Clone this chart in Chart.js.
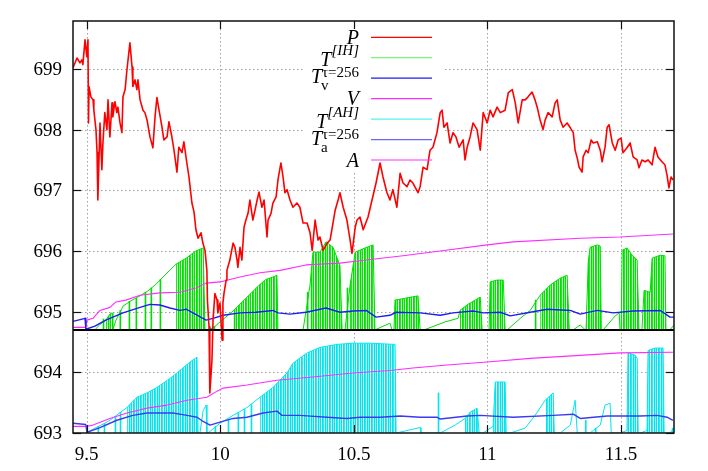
<!DOCTYPE html>
<html>
<head>
<meta charset="utf-8">
<script src="https://cdn.jsdelivr.net/npm/chart.js@4.4.1/dist/chart.umd.min.js"></script>
<style>
  html, body { margin: 0; padding: 0; background: #fff; }
  #wrap { width: 708px; height: 471px; }
</style>
</head>
<body>
<div id="wrap"><canvas id="prices" width="708" height="471"></canvas></div>
<script>
// axis ticks and ranges
const xTicks = [9.5, 10, 10.5, 11, 11.5];
const yTicks = [693, 694, 695, 696, 697, 698, 699];
const xMin = 9.449, xMax = 11.698;
const yMin = 693, yMax = 699.79;
// zero line of the upper indicator panel
const upperBase = 694.7;

// P : price
const price = [
  [9.449, 699.02], [9.464, 699.18], [9.475, 699.10], [9.482, 699.15], [9.486, 699.07], [9.494, 699.48],
  [9.501, 699.20], [9.505, 699.48], [9.507, 698.11], [9.509, 698.71], [9.516, 698.54], [9.524, 698.49],
  [9.527, 698.32], [9.535, 698.00], [9.539, 697.62], [9.542, 696.84], [9.550, 698.11], [9.557, 697.34],
  [9.561, 697.78], [9.568, 698.28], [9.576, 698.00], [9.580, 698.49], [9.587, 697.88], [9.595, 698.44],
  [9.598, 698.21], [9.606, 698.46], [9.613, 698.28], [9.617, 698.37], [9.625, 698.11], [9.632, 697.95],
  [9.636, 698.54], [9.644, 698.66], [9.651, 698.99], [9.662, 699.43], [9.670, 699.03], [9.673, 698.71],
  [9.681, 698.82], [9.688, 698.66], [9.692, 698.82], [9.700, 698.49], [9.711, 698.32], [9.718, 698.28],
  [9.726, 698.16], [9.737, 697.88], [9.748, 697.70], [9.756, 698.21], [9.763, 698.53], [9.771, 698.32],
  [9.782, 698.04], [9.789, 697.83], [9.801, 697.88], [9.808, 698.13], [9.819, 697.88], [9.827, 697.66],
  [9.838, 697.30], [9.845, 697.71], [9.857, 697.62], [9.864, 697.80], [9.875, 697.45], [9.883, 697.22],
  [9.894, 696.79], [9.902, 696.64], [9.909, 696.35], [9.917, 696.21], [9.928, 696.30], [9.935, 696.13],
  [9.943, 696.01], [9.950, 695.68], [9.952, 695.19], [9.958, 694.75], [9.961, 693.66], [9.969, 694.20],
  [9.973, 694.86], [9.980, 695.30], [9.988, 695.19], [9.991, 694.98], [9.999, 695.14], [10.007, 694.53],
  [10.010, 695.14], [10.014, 695.30], [10.022, 695.52], [10.025, 695.68], [10.036, 695.85], [10.048, 696.13],
  [10.055, 696.06], [10.063, 695.85], [10.066, 695.73], [10.074, 696.06], [10.081, 695.85], [10.089, 696.39],
  [10.096, 696.51], [10.104, 696.62], [10.111, 696.84], [10.122, 696.51], [10.130, 696.67], [10.138, 696.84],
  [10.145, 696.97], [10.156, 696.72], [10.164, 696.84], [10.175, 696.23], [10.179, 696.51], [10.190, 696.62],
  [10.197, 696.79], [10.209, 696.89], [10.216, 697.17], [10.227, 697.45], [10.235, 697.22], [10.242, 696.96],
  [10.250, 697.01], [10.261, 696.84], [10.272, 696.72], [10.287, 696.79], [10.298, 696.72], [10.310, 696.46],
  [10.325, 696.46], [10.336, 696.30], [10.344, 696.01], [10.355, 696.51], [10.366, 696.18], [10.373, 696.23],
  [10.385, 696.01], [10.400, 696.13], [10.411, 696.18], [10.430, 696.67], [10.441, 696.84], [10.448, 696.96],
  [10.460, 696.72], [10.474, 696.51], [10.486, 696.18], [10.493, 695.96], [10.505, 696.39], [10.512, 696.51],
  [10.523, 696.56], [10.535, 696.35], [10.553, 696.56], [10.568, 696.84], [10.583, 697.12], [10.598, 697.45],
  [10.609, 697.22], [10.624, 696.96], [10.635, 696.84], [10.646, 697.01], [10.661, 696.72], [10.673, 697.28],
  [10.684, 697.12], [10.699, 697.06], [10.710, 697.17], [10.721, 697.12], [10.740, 696.96], [10.748, 697.06],
  [10.759, 697.38], [10.774, 697.34], [10.785, 697.66], [10.796, 697.71], [10.811, 697.95], [10.823, 698.28],
  [10.830, 698.32], [10.837, 698.04], [10.849, 698.11], [10.860, 697.78], [10.871, 697.95], [10.882, 697.88],
  [10.894, 697.71], [10.909, 697.83], [10.916, 697.50], [10.924, 697.71], [10.935, 697.88], [10.946, 698.11],
  [10.961, 698.00], [10.973, 697.66], [10.984, 698.28], [10.999, 698.11], [11.010, 698.32], [11.021, 698.21],
  [11.036, 698.37], [11.048, 698.28], [11.066, 698.32], [11.078, 698.61], [11.093, 698.66], [11.104, 698.44],
  [11.115, 698.11], [11.130, 698.49], [11.141, 698.49], [11.152, 698.54], [11.167, 698.62], [11.178, 698.49],
  [11.186, 698.37], [11.197, 698.16], [11.208, 698.00], [11.216, 698.16], [11.227, 698.28], [11.242, 698.21],
  [11.253, 698.44], [11.261, 698.49], [11.272, 698.16], [11.283, 698.04], [11.298, 698.11], [11.310, 698.03],
  [11.321, 697.95], [11.328, 697.66], [11.336, 697.53], [11.343, 697.38], [11.354, 697.30], [11.358, 697.55],
  [11.369, 697.66], [11.377, 697.62], [11.388, 697.83], [11.396, 697.78], [11.411, 697.80], [11.422, 697.66],
  [11.429, 697.47], [11.440, 697.71], [11.448, 698.04], [11.455, 698.08], [11.467, 697.78], [11.478, 697.66],
  [11.489, 697.83], [11.500, 697.86], [11.507, 697.62], [11.522, 697.70], [11.534, 697.78], [11.545, 697.55],
  [11.560, 697.50], [11.567, 697.37], [11.578, 697.50], [11.590, 697.47], [11.601, 697.50], [11.616, 697.42],
  [11.627, 697.71], [11.638, 697.55], [11.653, 697.47], [11.664, 697.42], [11.672, 697.25], [11.679, 697.04],
  [11.687, 697.22], [11.694, 697.17]
];

// T^[IH] : sawtooth envelope (upper panel)
const tIH = [
  [9.531, 694.7], [9.550, 694.79], [9.572, 694.86], [9.587, 694.96], [9.595, 694.98], [9.598, 694.7],
  [9.610, 694.86], [9.636, 695.09], [9.662, 695.17], [9.700, 695.26], [9.729, 695.34], [9.759, 695.45],
  [9.797, 695.62], [9.834, 695.78], [9.872, 695.88], [9.909, 696.00], [9.936, 696.05], [9.943, 694.7],
  [9.950, 694.7], [9.973, 694.73], [9.999, 694.83], [10.048, 695.01], [10.096, 695.22], [10.149, 695.45],
  [10.171, 695.53], [10.197, 695.57], [10.212, 695.60], [10.216, 694.7], [10.310, 694.7], [10.336, 695.44],
  [10.347, 695.98], [10.373, 695.98], [10.396, 696.15], [10.422, 696.06], [10.448, 695.76], [10.456, 694.7],
  [10.467, 694.7], [10.486, 695.44], [10.505, 695.98], [10.542, 696.05], [10.572, 696.10], [10.579, 694.7],
  [10.635, 694.81], [10.643, 694.7], [10.650, 694.7], [10.654, 695.19], [10.691, 695.22], [10.740, 695.26],
  [10.748, 694.7], [10.763, 694.7], [10.841, 694.83], [10.890, 694.89], [10.897, 695.02], [10.927, 695.12],
  [10.954, 695.19], [10.973, 695.24], [10.980, 694.7], [11.006, 694.7], [11.010, 695.49], [11.036, 695.52],
  [11.059, 695.52], [11.066, 694.7], [11.074, 694.7], [11.123, 694.89], [11.160, 695.02], [11.197, 695.27],
  [11.235, 695.44], [11.272, 695.55], [11.298, 695.60], [11.306, 694.7], [11.321, 694.7], [11.347, 694.78],
  [11.366, 694.7], [11.369, 694.7], [11.377, 695.82], [11.384, 696.06], [11.411, 696.10], [11.422, 696.08],
  [11.426, 694.7], [11.433, 694.7], [11.478, 694.93], [11.493, 694.98], [11.496, 694.7], [11.500, 694.7],
  [11.504, 696.01], [11.522, 696.05], [11.541, 695.93], [11.560, 695.85], [11.567, 694.7], [11.578, 694.7],
  [11.586, 695.35], [11.609, 695.32], [11.616, 695.88], [11.646, 695.93], [11.664, 695.92], [11.668, 694.7],
  [11.683, 694.7], [11.698, 694.78]
];
// stretches where the T^[IH] drops are dense enough to look filled
const tIHDense = [
  [9.570, 9.598], [9.804, 9.943], [10.021, 10.216], [10.317, 10.456], [10.471, 10.579], [10.650, 10.748],
  [10.897, 10.980], [11.006, 11.066], [11.178, 11.306], [11.369, 11.426], [11.500, 11.567], [11.582, 11.668]
];
// single T^[IH] drops in the sparse stretches: [x, top]
const tIHDrops = [
  [9.565, 694.88], [9.628, 695.02], [9.662, 695.17], [9.688, 695.22], [9.722, 695.32], [9.744, 695.39],
  [9.778, 695.53], [9.980, 694.76], [10.329, 695.32], [10.478, 695.39], [11.182, 695.19]
];

// T_v (tau = 256)
const tV = [
  [9.449, 694.84], [9.494, 694.89], [9.497, 694.71], [9.531, 694.76], [9.572, 694.86], [9.636, 694.98],
  [9.700, 695.07], [9.737, 695.12], [9.774, 695.11], [9.812, 695.06], [9.849, 695.02], [9.872, 695.04],
  [9.898, 694.98], [9.947, 694.86], [9.973, 694.89], [10.011, 694.94], [10.074, 694.98], [10.134, 694.99],
  [10.197, 695.02], [10.216, 694.98], [10.261, 694.96], [10.321, 694.99], [10.396, 695.06], [10.448, 694.99],
  [10.497, 695.01], [10.546, 695.02], [10.583, 694.91], [10.635, 694.94], [10.658, 694.99], [10.748, 694.98],
  [10.823, 694.94], [10.871, 694.98], [10.946, 695.01], [10.984, 694.98], [11.048, 694.99], [11.085, 694.93],
  [11.160, 694.99], [11.224, 695.04], [11.310, 695.02], [11.347, 694.96], [11.411, 695.02], [11.470, 694.98],
  [11.545, 695.01], [11.646, 695.02], [11.683, 694.91], [11.698, 694.91]
];

// V
const vol = [
  [9.449, 694.74], [9.497, 694.74], [9.501, 694.86], [9.524, 694.89], [9.550, 695.02], [9.587, 695.07],
  [9.610, 695.16], [9.647, 695.19], [9.700, 695.27], [9.774, 695.31], [9.849, 695.32], [9.909, 695.39],
  [9.947, 695.47], [9.999, 695.49], [10.074, 695.57], [10.149, 695.64], [10.224, 695.68], [10.321, 695.77],
  [10.448, 695.80], [10.546, 695.85], [10.684, 695.92], [10.823, 696.00], [10.999, 696.10], [11.096, 696.15],
  [11.347, 696.21], [11.496, 696.23], [11.694, 696.28]
];

// T^[AH] : sawtooth envelope (lower panel)
const tAH = [
  [9.497, 693.0], [9.531, 693.08], [9.568, 693.16], [9.587, 693.21], [9.651, 693.42], [9.688, 693.59],
  [9.726, 693.66], [9.763, 693.75], [9.812, 693.90], [9.849, 694.03], [9.887, 694.17], [9.913, 694.25],
  [9.917, 693.0], [9.924, 693.0], [9.936, 693.37], [9.947, 693.46], [9.950, 693.0], [9.954, 693.0],
  [9.999, 693.16], [10.048, 693.29], [10.100, 693.42], [10.149, 693.59], [10.197, 693.75], [10.250, 693.99],
  [10.272, 694.15], [10.325, 694.32], [10.373, 694.41], [10.437, 694.46], [10.497, 694.48], [10.560, 694.48],
  [10.654, 694.46], [10.658, 693.0], [10.748, 693.09], [10.751, 693.0], [10.823, 693.0], [10.879, 693.13],
  [10.916, 693.24], [10.935, 693.34], [10.961, 693.41], [10.969, 693.0], [10.984, 693.0], [11.021, 693.11],
  [11.029, 693.84], [11.066, 693.84], [11.070, 693.0], [11.085, 693.0], [11.141, 693.08], [11.178, 693.29],
  [11.216, 693.54], [11.246, 693.66], [11.250, 693.0], [11.272, 693.0], [11.310, 693.13], [11.328, 693.54],
  [11.336, 693.0], [11.384, 693.0], [11.422, 693.13], [11.440, 693.46], [11.459, 693.49], [11.463, 693.0],
  [11.496, 693.0], [11.522, 693.04], [11.526, 694.32], [11.553, 694.28], [11.560, 694.23], [11.564, 693.0],
  [11.571, 693.0], [11.597, 693.04], [11.601, 694.36], [11.627, 694.40], [11.657, 694.40], [11.661, 693.0],
  [11.683, 693.0], [11.698, 693.08]
];
const tAHDense = [
  [9.650, 9.917], [10.130, 10.658], [10.916, 10.969], [11.021, 11.070], [11.197, 11.250],
  [11.522, 11.564], [11.597, 11.661]
];
const tAHDrops = [
  [9.542, 693.11], [9.565, 693.16], [9.606, 693.27], [9.625, 693.34], [9.980, 693.11], [10.029, 693.23],
  [10.066, 693.34], [10.089, 693.39], [10.115, 693.47], [10.815, 693.66], [11.366, 693.21], [11.403, 693.08],
  [11.691, 693.08]
];

// T_a (tau = 256)
const tA = [
  [9.449, 693.16], [9.497, 693.14], [9.501, 693.01], [9.550, 693.09], [9.613, 693.21], [9.673, 693.29],
  [9.726, 693.33], [9.774, 693.33], [9.823, 693.33], [9.876, 693.29], [9.913, 693.26], [9.936, 693.19],
  [9.962, 693.13], [9.999, 693.18], [10.048, 693.24], [10.100, 693.26], [10.160, 693.33], [10.212, 693.36],
  [10.231, 693.29], [10.298, 693.29], [10.400, 693.26], [10.474, 693.24], [10.523, 693.26], [10.598, 693.26],
  [10.673, 693.28], [10.748, 693.26], [10.811, 693.26], [10.823, 693.23], [10.924, 693.28], [10.973, 693.29],
  [11.096, 693.26], [11.246, 693.29], [11.321, 693.31], [11.347, 693.24], [11.448, 693.28], [11.496, 693.28],
  [11.571, 693.28], [11.635, 693.29], [11.672, 693.26], [11.694, 693.21]
];

// A
const act = [
  [9.449, 693.11], [9.501, 693.11], [9.524, 693.13], [9.587, 693.24], [9.651, 693.33], [9.726, 693.41],
  [9.801, 693.46], [9.876, 693.54], [9.950, 693.59], [9.988, 693.69], [10.011, 693.74], [10.100, 693.79],
  [10.212, 693.87], [10.336, 693.92], [10.497, 693.99], [10.635, 694.03], [10.721, 694.07], [10.849, 694.12],
  [10.999, 694.17], [11.160, 694.23], [11.347, 694.28], [11.496, 694.32], [11.694, 694.33]
];

const RED = '#ff0000', GREEN = '#00dd00', BLUE = '#1c1cf5', BLUE2 = '#3a3af0',
  MAGENTA = '#ff2cff', CYAN = '#00e6f0';

const keyRows = [
  { label: 'P', color: RED },
  { label: 'T', sup: '[IH]', color: '#55f055' },
  { label: 'T', sup: 'τ=256', sub: 'v', color: BLUE },
  { label: 'V', color: MAGENTA },
  { label: 'T', sup: '[AH]', color: '#55f0f0' },
  { label: 'T', sup: 'τ=256', sub: 'a', color: '#6a6af0' },
  { label: 'A', color: MAGENTA }
];

const serif = '"Liberation Serif", "DejaVu Serif", serif';

const pts = arr => arr.map(([x, y]) => ({ x, y }));
const drops = (arr, base) => arr.map(([x, top]) => ({ x, y: [base, top] }));
function denseOnly(env, ranges) {
  const out = [];
  ranges.forEach(([a, b]) => {
    env.forEach(([x, y]) => { if (x >= a && x <= b) out.push({ x, y }); });
    out.push({ x: b, y: null });
  });
  return out;
}

function line(ctx, x1, y1, x2, y2) {
  ctx.beginPath(); ctx.moveTo(x1, y1); ctx.lineTo(x2, y2); ctx.stroke();
}

// vertical hatching that looks like a bundle of drop lines
function hatch(ctx, cols) {
  const c = document.createElement('canvas');
  c.width = cols.length; c.height = 1;
  const g = c.getContext('2d');
  cols.forEach((col, i) => { g.fillStyle = col; g.fillRect(i, 0, 1, 1); });
  return ctx.createPattern(c, 'repeat');
}

const gnuplotFrame = {
  id: 'gnuplotFrame',
  beforeDatasetsDraw(chart) {
    const { ctx, chartArea: a, scales: { x, y } } = chart;
    ctx.save();
    ctx.strokeStyle = '#a0a0a0';
    ctx.lineWidth = 1;
    ctx.setLineDash([1.5, 2.5]);
    xTicks.forEach(v => {
      const px = Math.round(x.getPixelForValue(v)) + 0.5;
      line(ctx, px, a.top, px, a.bottom);
    });
    yTicks.forEach(v => {
      if (v === yMin) return;
      const py = Math.round(y.getPixelForValue(v)) + 0.5;
      line(ctx, a.left, py, a.right, py);
    });
    ctx.setLineDash([]);
    // key area hides the grid behind it
    ctx.fillStyle = '#fff';
    ctx.fillRect(a.left + 230, a.top + 1, 140, 149);
    ctx.restore();
  },
  afterDatasetsDraw(chart) {
    const { ctx, chartArea: a, scales: { x, y } } = chart;
    ctx.save();
    // panel separator
    ctx.strokeStyle = '#000';
    ctx.lineWidth = 2;
    const sy = Math.round(y.getPixelForValue(upperBase));
    line(ctx, a.left, sy, a.right, sy);
    // border and inward ticks
    ctx.lineWidth = 1.5;
    ctx.strokeStyle = '#111';
    ctx.strokeRect(a.left, a.top, a.right - a.left, a.bottom - a.top);
    ctx.lineWidth = 1.2;
    xTicks.forEach(v => {
      const px = Math.round(x.getPixelForValue(v)) + 0.5;
      line(ctx, px, a.bottom, px, a.bottom - 8);
      line(ctx, px, a.top, px, a.top + 8);
    });
    yTicks.forEach(v => {
      const py = Math.round(y.getPixelForValue(v)) + 0.5;
      line(ctx, a.left, py, a.left + 8, py);
      line(ctx, a.right, py, a.right - 8, py);
    });
    // tick labels
    ctx.fillStyle = '#000';
    ctx.font = '19px ' + serif;
    ctx.textBaseline = 'middle';
    ctx.textAlign = 'right';
    yTicks.forEach(v => ctx.fillText(String(v), a.left - 11, y.getPixelForValue(v) + 1));
    ctx.textAlign = 'center';
    xTicks.forEach(v => ctx.fillText(String(v), x.getPixelForValue(v), a.bottom + 22));
    // key
    const right = a.left + 286;
    keyRows.forEach((r, i) => {
      const rowY = a.top + 16.3 + i * 20.45;
      ctx.strokeStyle = r.color;
      ctx.lineWidth = 1.2;
      line(ctx, a.left + 298, rowY, a.left + 359, rowY);
      const mainFont = 'italic 20px ' + serif;
      const supFont = (r.sub ? '' : 'italic ') + '15px ' + serif;
      const subFont = '15px ' + serif;
      ctx.font = mainFont;
      const mw = ctx.measureText(r.label).width;
      ctx.font = supFont;
      const sw = r.sup ? ctx.measureText(r.sup).width : 0;
      ctx.font = subFont;
      const bw = r.sub ? ctx.measureText(r.sub).width : 0;
      const x0 = right - mw - Math.max(sw, bw);
      let base = rowY + 6.5;
      if (r.sup && r.sub) base = rowY + 5;
      else if (r.sup) base = rowY + 8.5;
      ctx.fillStyle = '#000';
      ctx.textBaseline = 'alphabetic';
      ctx.textAlign = 'left';
      ctx.font = mainFont;
      ctx.fillText(r.label, x0, base);
      if (r.sup) {
        ctx.font = supFont;
        ctx.fillText(r.sup, x0 + mw, base - (r.sub ? 6 : 11));
      }
      if (r.sub) {
        ctx.font = subFont;
        ctx.fillText(r.sub, x0 + mw - 1, base + 7);
      }
    });
    ctx.restore();
  }
};

const lineSet = (data, color, width) => ({
  type: 'line', data: pts(data), borderColor: color, borderWidth: width,
  pointRadius: 0, tension: 0, fill: false, borderJoinStyle: 'round', spanGaps: false
});
const fillSet = (data, color, fill) => ({
  type: 'line', data, borderColor: 'rgba(0,0,0,0)', borderWidth: 0, backgroundColor: color,
  pointRadius: 0, tension: 0, fill, spanGaps: false
});
const dropSet = (data, color) => ({
  type: 'bar', data, backgroundColor: color, borderWidth: 0, barThickness: 1, grouped: true
});

const ctx = document.getElementById('prices').getContext('2d');
const greenHatch = hatch(ctx, ['#00e000', '#20e820', '#c8f8c8', '#00dd00', '#7af07a', '#00e400', '#ffffff']);
const cyanHatch = hatch(ctx, ['#00e6f0', '#30eaf2', '#c8f8fa', '#00e3ee', '#80f0f5', '#00e6f0', '#ffffff']);

new Chart(ctx, {
  type: 'line',
  data: {
    datasets: [
      lineSet(price, RED, 1.6),
      lineSet(tV, BLUE, 1.4),
      lineSet(tA, BLUE2, 1.4),
      lineSet(vol, MAGENTA, 1.1),
      lineSet(act, MAGENTA, 1.1),
      lineSet(tIH, GREEN, 1),
      lineSet(tAH, CYAN, 1),
      dropSet(drops(tIHDrops, upperBase), GREEN),
      dropSet(drops(tAHDrops, yMin), CYAN),
      fillSet(denseOnly(tIH, tIHDense), greenHatch, { value: upperBase }),
      fillSet(denseOnly(tAH, tAHDense), cyanHatch, 'start')
    ]
  },
  options: {
    responsive: false,
    animation: false,
    events: [],
    layout: { padding: { top: 21, right: 34, bottom: 0, left: 0 } },
    plugins: { legend: { display: false }, tooltip: { enabled: false } },
    scales: {
      x: {
        type: 'linear', min: xMin, max: xMax, offset: false,
        grid: { display: false }, border: { display: false },
        afterBuildTicks: s => { s.ticks = xTicks.map(v => ({ value: v })); },
        afterFit: s => { s.height = 38; },
        ticks: { display: false }
      },
      y: {
        type: 'linear', min: yMin, max: yMax,
        grid: { display: false }, border: { display: false },
        afterBuildTicks: s => { s.ticks = yTicks.map(v => ({ value: v })); },
        afterFit: s => { s.width = 73; },
        ticks: { display: false }
      }
    }
  },
  plugins: [gnuplotFrame]
});
</script>
</body>
</html>
